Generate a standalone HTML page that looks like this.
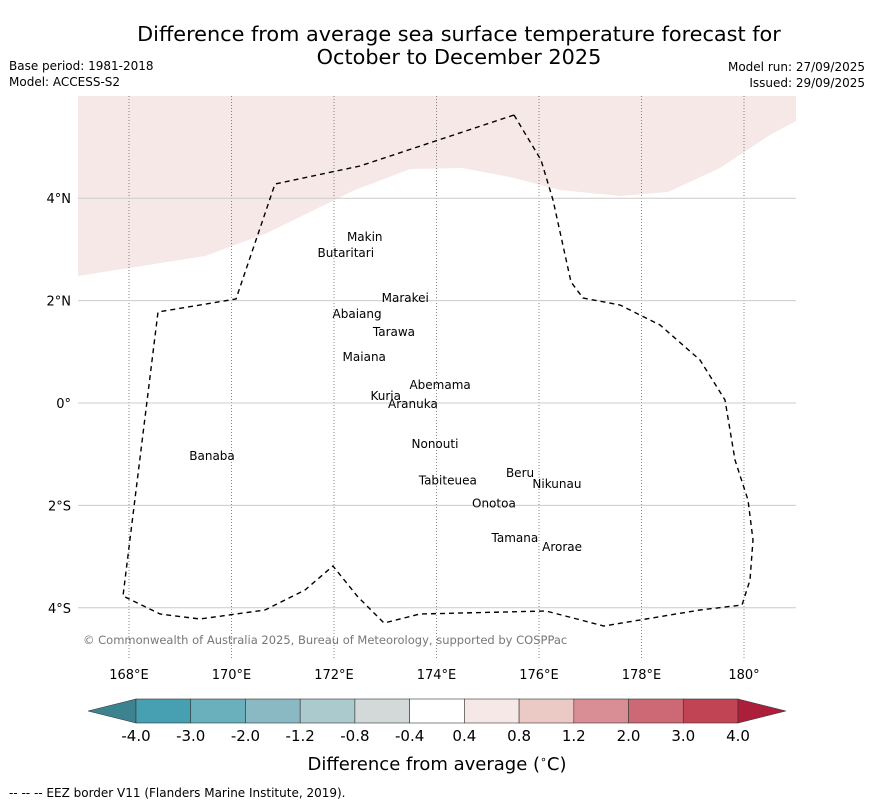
<!DOCTYPE html>
<html><head><meta charset="utf-8"><style>
body{margin:0;background:#fff;font-family:"DejaVu Sans","Liberation Sans",sans-serif}
svg text{font-family:"DejaVu Sans","Liberation Sans",sans-serif}
</style></head><body>
<svg id="chart" width="873" height="804" viewBox="0 0 873 804" xmlns="http://www.w3.org/2000/svg">
<text x="459" y="41" text-anchor="middle" font-size="20.8">Difference from average sea surface temperature forecast for</text>
<text x="459" y="64" text-anchor="middle" font-size="20.8">October to December 2025</text>
<text x="9" y="70" font-size="12">Base period: 1981-2018</text>
<text x="9" y="86" font-size="12">Model: ACCESS-S2</text>
<text x="865" y="71" font-size="12" text-anchor="end">Model run: 27/09/2025</text>
<text x="865" y="87" font-size="12" text-anchor="end">Issued: 29/09/2025</text>
<g id="map"></g>
<g id="cbar"></g>
<text x="437" y="770" text-anchor="middle" font-size="18">Difference from average (<tspan font-size="11" dy="-7">∘</tspan><tspan dy="7">C)</tspan></text>
<text x="9" y="797" font-size="12">--  --  -- EEZ border V11 (Flanders Marine Institute, 2019).</text>
</svg>
<script>
const lonTicks=[168,170,172,174,176,178,180];
const lonLabels=["168°E","170°E","172°E","174°E","176°E","178°E","180°"];
const latTicks=[4,2,0,-2,-4];
const latLabels=["4°N","2°N","0°","2°S","4°S"];
const islandNames=["Makin","Butaritari","Marakei","Abaiang","Tarawa","Maiana","Abemama","Kuria","Aranuka","Nonouti","Banaba","Beru","Nikunau","Tabiteuea","Onotoa","Tamana","Arorae"];
const islandLon=[172.60,172.23,173.39,172.45,173.17,172.59,174.07,173.01,173.54,173.97,169.62,175.63,176.35,174.22,175.12,175.53,176.45];
const islandLat=[3.24,2.93,2.05,1.74,1.39,0.90,0.35,0.14,-0.02,-0.80,-1.04,-1.37,-1.58,-1.51,-1.96,-2.64,-2.81];
const cbLevels=["-4.0","-3.0","-2.0","-1.2","-0.8","-0.4","0.4","0.8","1.2","2.0","3.0","4.0"];
const cbColors=["#3d838f","#47a0b1","#69afbc","#8bb9c3","#aacacd","#d3d9d9","#ffffff","#f5e8e7","#ebc9c5","#d98e95","#cd6974","#c04454","#ac1f3b"];
const NS="http://www.w3.org/2000/svg";
const X=l=>129+(l-168)*51.25, Y=l=>403-l*51.2;
function mk(p,t,a){const e=document.createElementNS(NS,t);for(const k in a)e.setAttribute(k,a[k]);p.appendChild(e);return e;}
const map=document.getElementById('map');
mk(map,'polygon',{points:"78,96 78,276 129,268 205,256 265,234 355,190 410,169 462,168 510,177 560,190 620,196 668,192 720,168 770,135 796,121 796,96",fill:"#f5e8e7"});
lonTicks.forEach((v,i)=>{
 const l=mk(map,'line',{x1:X(v),x2:X(v),y1:96,y2:658,stroke:"#666","stroke-width":0.8,"stroke-dasharray":"1,2"});
 
 const t=mk(map,'text',{x:X(v),y:679,"text-anchor":"middle","font-size":13});t.textContent=lonLabels[i];
 
});
latTicks.forEach((v,i)=>{
 const l=mk(map,'line',{x1:78,x2:796,y1:Y(v),y2:Y(v),stroke:"#ccc","stroke-width":1});
 
 const t=mk(map,'text',{x:71,y:Y(v)+5,"text-anchor":"end","font-size":13});t.textContent=latLabels[i];
 
});
const eez=mk(map,'polygon',{points:"514,115 541,160 553,200 571,282 583,298 620,305 660,325 700,360 725,400 735,460 748,500 753,540 750,580 742,605 700,610 604,626 546,611 420,614 384,623 358,597 333,566 305,590 265,610 200,619 160,614 123,596 158,312 236,299 275,184 360,166",fill:"none",stroke:"#000","stroke-width":1.4,"stroke-dasharray":"5,4"});

islandNames.forEach((n,i)=>{
 const t=mk(map,'text',{x:X(islandLon[i]),y:Y(islandLat[i])+4,"text-anchor":"middle","font-size":12});t.textContent=n;
 
});
const c=mk(map,'text',{x:83,y:644,"font-size":11.5,fill:"#777"});c.textContent="© Commonwealth of Australia 2025, Bureau of Meteorology, supported by COSPPac";

const cb=document.getElementById('cbar');
const x0=136,w=(738-136)/(cbLevels.length-1),y0=699,y1=723;
mk(cb,'polygon',{points:`88,711 ${x0},${y0} ${x0},${y1}`,fill:cbColors[0],stroke:"#333","stroke-width":0.6});
for(let i=0;i<cbLevels.length-1;i++){
 const r=mk(cb,'rect',{x:x0+i*w,y:y0,width:w,height:y1-y0,fill:cbColors[i+1],stroke:"#333","stroke-width":0.6});
 
}
mk(cb,'polygon',{points:`738,${y0} 786,711 738,${y1}`,fill:cbColors[12],stroke:"#333","stroke-width":0.6});
cbLevels.forEach((v,i)=>{
 const t=mk(cb,'text',{x:x0+i*w,y:741,"text-anchor":"middle","font-size":15});t.textContent=v;
 
});
</script>
</body></html>
